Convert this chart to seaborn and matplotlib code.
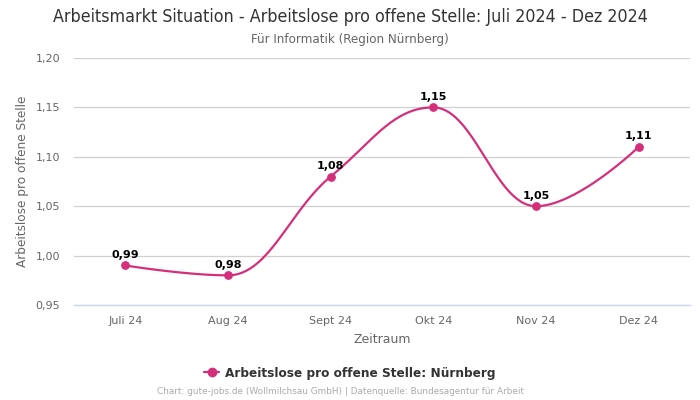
import numpy as np
import pandas as pd
import matplotlib
matplotlib.use("Agg")
import matplotlib.pyplot as plt
from matplotlib.ticker import FuncFormatter, FixedLocator
from matplotlib.lines import Line2D
import seaborn as sns

categories = ["Juli 24", "Aug 24", "Sept 24", "Okt 24", "Nov 24", "Dez 24"]
values = [0.99, 0.98, 1.08, 1.15, 1.05, 1.11]
y_ticks = [0.95, 1.00, 1.05, 1.10, 1.15, 1.20]
series_name = "Arbeitslose pro offene Stelle: Nürnberg"

title = "Arbeitsmarkt Situation - Arbeitslose pro offene Stelle: Juli 2024 - Dez 2024"
subtitle = "Für Informatik (Region Nürnberg)"
footer = "Chart: gute-jobs.de (Wollmilchsau GmbH) | Datenquelle: Bundesagentur für Arbeit"

COLOR = "#d52f7c"

sns.set_theme(style="white")
plt.rcParams['font.family'] = ['DejaVu Sans']


def spline_path(xs, ys, smoothing=1.5, n=40):
    """Highcharts-style spline through the data points (render path only)."""
    xs = np.asarray(xs, float)
    ys = np.asarray(ys, float)
    m = len(xs)
    left = [(xs[i], ys[i]) for i in range(m)]
    right = [(xs[i], ys[i]) for i in range(m)]
    denom = smoothing + 1
    for i in range(1, m - 1):
        px, py = xs[i], ys[i]
        lx, ly = xs[i - 1], ys[i - 1]
        nx, ny = xs[i + 1], ys[i + 1]
        lcx = (smoothing * px + lx) / denom
        lcy = (smoothing * py + ly) / denom
        rcx = (smoothing * px + nx) / denom
        rcy = (smoothing * py + ny) / denom
        if rcx != lcx:
            corr = ((rcy - lcy) * (rcx - px)) / (rcx - lcx) + py - rcy
            lcy += corr
            rcy += corr
        if lcy > max(ly, py):
            lcy = max(ly, py); rcy = 2 * py - lcy
        elif lcy < min(ly, py):
            lcy = min(ly, py); rcy = 2 * py - lcy
        if rcy > max(py, ny):
            rcy = max(py, ny); lcy = 2 * py - rcy
        elif rcy < min(py, ny):
            rcy = min(py, ny); lcy = 2 * py - rcy
        left[i] = (lcx, lcy)
        right[i] = (rcx, rcy)
    px_all, py_all = [], []
    t = np.linspace(0, 1, n)
    for i in range(m - 1):
        p0 = np.array([xs[i], ys[i]])
        p1 = np.array(right[i])
        p2 = np.array(left[i + 1])
        p3 = np.array([xs[i + 1], ys[i + 1]])
        b = ((1 - t)[:, None] ** 3) * p0 + 3 * ((1 - t)[:, None] ** 2) * t[:, None] * p1 \
            + 3 * (1 - t)[:, None] * (t[:, None] ** 2) * p2 + (t[:, None] ** 3) * p3
        if i > 0:
            b = b[1:]
        px_all.extend(b[:, 0]); py_all.extend(b[:, 1])
    return np.array(px_all), np.array(py_all)


df = pd.DataFrame({"x": np.arange(len(categories)), "y": values, "cat": categories})
sx, sy = spline_path(df["x"], df["y"])
curve = pd.DataFrame({"x": sx, "y": sy})

fig = plt.figure(figsize=(7, 4), dpi=100)
ax = fig.add_axes([0.1057, 0.2375, 0.88, 0.6175])

sns.lineplot(data=curve, x="x", y="y", ax=ax, color=COLOR, linewidth=1.6, sort=False,
             estimator=None, zorder=3)
sns.scatterplot(data=df, x="x", y="y", ax=ax, color=COLOR, s=40, edgecolor=COLOR,
                linewidth=0, zorder=4)

for xi, yi in zip(df["x"], df["y"]):
    ax.annotate(f"{yi:.2f}".replace(".", ","), (xi, yi), xytext=(0, 4),
                textcoords="offset points", ha="center", va="bottom",
                fontsize=8, fontweight="bold", color="black", zorder=5)

ax.set_xlim(-0.5, len(categories) - 0.5)
ax.set_ylim(y_ticks[0], y_ticks[-1])
ax.xaxis.set_major_locator(FixedLocator(list(range(len(categories)))))
ax.set_xticklabels(categories)
ax.yaxis.set_major_locator(FixedLocator(y_ticks))
ax.yaxis.set_major_formatter(FuncFormatter(lambda v, p: f"{v:.2f}".replace(".", ",")))
ax.tick_params(axis="both", length=0, labelsize=8, labelcolor="#666666")
ax.tick_params(axis="x", pad=8)
ax.tick_params(axis="y", pad=10)
ax.grid(axis="y", color="#d0d0d0", linewidth=0.9)
ax.grid(axis="x", visible=False)
for s in ["top", "right", "left"]:
    ax.spines[s].set_visible(False)
ax.spines["bottom"].set_color("#ccd6eb")
ax.spines["bottom"].set_linewidth(1)
ax.set_axisbelow(True)

ax.set_xlabel("Zeitraum", fontsize=9, color="#666666", labelpad=5)
ax.set_ylabel("Arbeitslose pro offene Stelle", fontsize=8.7, color="#666666", labelpad=5)

fig.text(0.5, 0.9575, title, ha="center", va="center", fontsize=12.75, color="#333333",
         fontstretch="condensed")
fig.text(0.5, 0.9025, subtitle, ha="center", va="center", fontsize=9.5, color="#666666",
         fontstretch="condensed")

handle = Line2D([0], [0], color=COLOR, linewidth=1.6, marker="o", markersize=6)
fig.legend([handle], [series_name], loc="center", bbox_to_anchor=(0.5, 0.0675),
           frameon=False, prop={"weight": "bold", "size": 8.7}, labelcolor="#333333",
           handlelength=1.2, handletextpad=0.5)

fig.text(0.486, 0.02, footer, ha="center", va="center", fontsize=6.4, color="#aaaaaa")

fig.savefig("out.png", dpi=100)
